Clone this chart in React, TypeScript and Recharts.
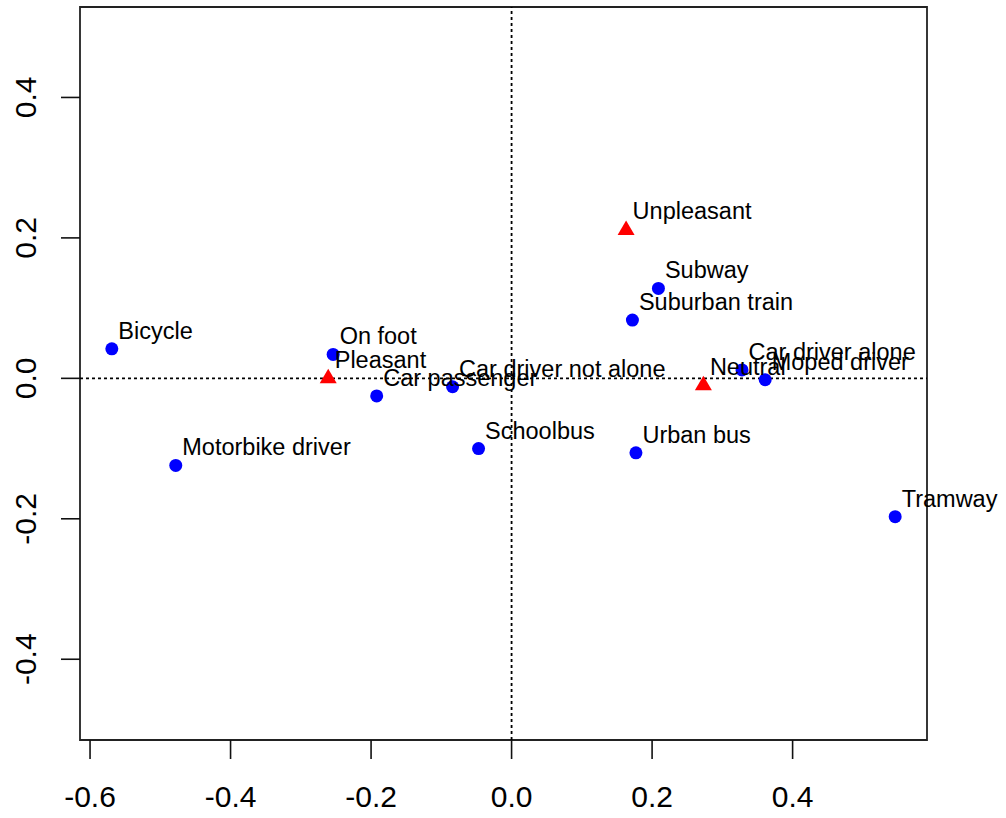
import React from "react"
import {
  ScatterChart,
  Scatter,
  XAxis,
  YAxis,
  ReferenceLine,
  ReferenceArea,
} from "recharts"

// row points (transport modes), blue dots
const modeNames = [
  "Bicycle",
  "Motorbike driver",
  "On foot",
  "Car passenger",
  "Car driver not alone",
  "Schoolbus",
  "Subway",
  "Suburban train",
  "Car driver alone",
  "Moped driver",
  "Urban bus",
  "Tramway",
]
const modeX = [-0.569, -0.478, -0.254, -0.192, -0.084, -0.047, 0.209, 0.172, 0.328, 0.361, 0.177, 0.546]
const modeY = [0.042, -0.124, 0.034, -0.025, -0.012, -0.1, 0.128, 0.083, 0.012, -0.002, -0.106, -0.197]

// column points (feelings), red triangles
const feelNames = ["Pleasant", "Unpleasant", "Neutral"]
const feelX = [-0.261, 0.163, 0.273]
const feelY = [0.001, 0.212, -0.009]

const xTicks = [-0.6, -0.4, -0.2, 0, 0.2, 0.4]
const yTicks = [-0.4, -0.2, 0, 0.2, 0.4]

const X_MIN = -0.6143
const X_MAX = 0.5913
const Y_MIN = -0.515
const Y_MAX = 0.5288

const FONT = "'Liberation Sans', Arial, Helvetica, sans-serif"

const modeData = modeNames.map((name, i) => ({ name, x: modeX[i], y: modeY[i] }))
const feelData = feelNames.map((name, i) => ({ name, x: feelX[i], y: feelY[i] }))
const allData = [...modeData, ...feelData]

const fmt = (v: number) => (Math.abs(v) < 1e-9 ? "0.0" : v.toFixed(1))

const XTick = (props: any) => {
  const { x, y, payload } = props
  return (
    <g>
      <line x1={x} y1={y} x2={x} y2={y + 19} stroke="#111" strokeWidth={1.6} />
      <text x={x} y={y + 66.5} textAnchor="middle" fontSize={30} fontFamily={FONT} fill="#000">
        {fmt(payload.value)}
      </text>
    </g>
  )
}

const YTick = (props: any) => {
  const { x, y, payload } = props
  const tx = 36.5
  return (
    <g>
      <line x1={x - 19} y1={y} x2={x} y2={y} stroke="#111" strokeWidth={1.6} />
      <text
        x={tx}
        y={y}
        transform={`rotate(-90, ${tx}, ${y})`}
        textAnchor="middle"
        fontSize={30}
        fontFamily={FONT}
        fill="#000"
      >
        {fmt(payload.value)}
      </text>
    </g>
  )
}

const Dot = (props: any) => <circle cx={props.cx} cy={props.cy} r={6.5} fill="#0000FF" />

const Triangle = (props: any) => {
  const { cx, cy } = props
  return (
    <polygon
      points={`${cx},${cy - 9} ${cx - 8.5},${cy + 5.5} ${cx + 8.5},${cy + 5.5}`}
      fill="#FF0000"
    />
  )
}

const Label = (props: any) => (
  <text
    x={props.cx + 6.5}
    y={props.cy - 10}
    fontSize={23.5}
    fontFamily={FONT}
    fill="#000"
  >
    {props.payload.name}
  </text>
)

export default function App() {
  return (
    <div style={{ position: "absolute", left: 0, top: 0, width: 1006, height: 818, background: "#fff" }}>
      <ScatterChart
        width={1006}
        height={818}
        margin={{ top: 7, right: 79, left: 0, bottom: 0 }}
        style={{ overflow: "visible" }}
      >
        <XAxis
          type="number"
          dataKey="x"
          domain={[X_MIN, X_MAX]}
          ticks={xTicks}
          interval={0}
          height={78}
          axisLine={false}
          tickLine={false}
          tickSize={0}
          tickMargin={0}
          tick={<XTick />}
        />
        <YAxis
          type="number"
          dataKey="y"
          domain={[Y_MIN, Y_MAX]}
          ticks={yTicks}
          interval={0}
          width={80}
          axisLine={false}
          tickLine={false}
          tickSize={0}
          tickMargin={0}
          tick={<YTick />}
        />
        <ReferenceArea
          x1={X_MIN}
          x2={X_MAX}
          y1={Y_MIN}
          y2={Y_MAX}
          fill="none"
          fillOpacity={0}
          stroke="#222"
          strokeWidth={1.8}
          ifOverflow="visible"
        />
        <ReferenceLine x={0} stroke="#000" strokeWidth={1.8} strokeDasharray="3 3" />
        <ReferenceLine y={0} stroke="#000" strokeWidth={1.8} strokeDasharray="3 3" />
        <Scatter data={modeData} shape={<Dot />} isAnimationActive={false} />
        <Scatter data={feelData} shape={<Triangle />} isAnimationActive={false} />
        <Scatter data={allData} shape={<Label />} isAnimationActive={false} />
      </ScatterChart>
    </div>
  )
}
